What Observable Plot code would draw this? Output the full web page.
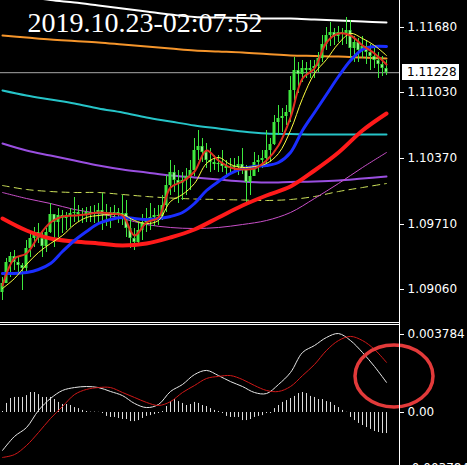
<!DOCTYPE html>
<html><head><meta charset="utf-8">
<script src="https://cdn.jsdelivr.net/npm/d3@7"></script>
<script src="https://cdn.jsdelivr.net/npm/@observablehq/plot@0.6"></script>
<style>
html,body{margin:0;padding:0;background:#000;}
#wrap{position:relative;width:467px;height:465px;background:#000;overflow:hidden;}
#wrap > *{position:absolute;}
</style></head><body>
<div id="wrap"></div>
<script>
// ---- data ----
const titleText = "2019.10.23-02:07:52";
const priceTicks = [1.1168, 1.1103, 1.1037, 1.0971, 1.0906];
const lastPrice = 1.11228;
const firstOpen = 1.0903;
const highs = [1.0918,1.0937,1.0943,1.0945,1.0938,1.0932,1.0955,1.0962,1.0968,1.0972,
1.0963,1.0967,1.0992,1.0980,1.0987,1.0985,1.0983,1.0987,1.0998,1.0990,
1.0987,1.0988,1.0989,1.0990,1.0992,1.1002,1.0991,1.0988,1.0990,1.0987,
1.1000,1.0995,1.0977,1.0967,1.0973,1.0981,1.0987,1.0992,1.0987,1.0990,
1.1000,1.1020,1.1035,1.1030,1.1025,1.1023,1.1027,1.1035,1.1057,1.1065,
1.1057,1.1052,1.1047,1.1040,1.1040,1.1045,1.1035,1.1037,1.1037,1.1039,
1.1047,1.1030,1.1027,1.1043,1.1040,1.1045,1.1065,1.1057,1.1080,1.1090,
1.1087,1.1090,1.1119,1.1138,1.1133,1.1135,1.1133,1.1135,1.1135,1.1143,
1.1160,1.1168,1.1173,1.1167,1.1169,1.1167,1.1178,1.1175,1.1159,1.1157,
1.1159,1.1155,1.1151,1.1147,1.1143,1.1139,1.1135];
const lows = [1.0895,1.0912,1.0918,1.0925,1.0923,1.0905,1.0922,1.0938,1.0948,1.0952,
1.0938,1.0943,1.0962,1.0948,1.0958,1.0962,1.0965,1.0968,1.0973,1.0973,
1.0972,1.0973,1.0973,1.0972,1.0970,1.0965,1.0969,1.0967,1.0975,1.0972,
1.0970,1.0958,1.0947,1.0945,1.0949,1.0955,1.0963,1.0965,1.0969,1.0970,
1.0975,1.0983,1.1000,1.1003,1.0992,1.0995,1.1000,1.1005,1.1019,1.1035,
1.1033,1.1027,1.1023,1.1025,1.1023,1.1023,1.1020,1.1020,1.1023,1.1020,
1.1021,1.0993,1.1000,1.1020,1.1023,1.1027,1.1030,1.1033,1.1050,1.1060,
1.1063,1.1070,1.1073,1.1095,1.1102,1.1113,1.1117,1.1117,1.1117,1.1123,
1.1133,1.1145,1.1149,1.1150,1.1153,1.1150,1.1151,1.1137,1.1133,1.1133,
1.1137,1.1131,1.1125,1.1127,1.1117,1.1119,1.1120];
const closes = [1.0912,1.0933,1.0939,1.0933,1.0930,1.0927,1.0947,1.0957,1.0963,1.0957,
1.0949,1.0963,1.0981,1.0973,1.0980,1.0977,1.0979,1.0982,1.0983,1.0981,
1.0980,1.0983,1.0981,1.0982,1.0985,1.0981,1.0983,1.0980,1.0983,1.0981,
1.0982,1.0967,1.0957,1.0953,1.0965,1.0973,1.0975,1.0978,1.0980,1.0979,
1.0990,1.1010,1.1023,1.1015,1.1012,1.1015,1.1019,1.1025,1.1045,1.1049,
1.1043,1.1035,1.1033,1.1031,1.1032,1.1029,1.1027,1.1029,1.1028,1.1031,
1.1027,1.1013,1.1019,1.1033,1.1035,1.1037,1.1045,1.1051,1.1073,1.1077,
1.1079,1.1083,1.1105,1.1125,1.1121,1.1127,1.1125,1.1127,1.1129,1.1137,
1.1151,1.1160,1.1163,1.1159,1.1163,1.1161,1.1165,1.1147,1.1153,1.1145,
1.1149,1.1143,1.1139,1.1135,1.1131,1.1127,1.11228];

// fast lines, sampled every 3 bars
const maFastRed = [1.0910,1.0937,1.0942,1.0959,1.0973,1.0979,1.0980,1.0981,1.0983,1.0982,1.0980,1.0960,1.0973,1.0978,1.1008,1.1014,1.1024,1.1045,1.1035,1.1028,1.1026,1.1027,1.1035,1.1050,1.1078,1.1117,1.1127,1.1153,1.1162,1.1160,1.1150,1.1142,1.1131];
const maYellow = [1.0907,1.0917,1.0931,1.0943,1.0952,1.0960,1.0971,1.0978,1.0980,1.0981,1.0981,1.0975,1.0972,1.0975,1.0994,1.1001,1.1012,1.1032,1.1038,1.1031,1.1028,1.1029,1.1032,1.1042,1.1065,1.1097,1.1122,1.1136,1.1152,1.1162,1.1157,1.1150,1.1140];
const maBlue = [1.0922,1.0922,1.0923,1.0926,1.0932,1.0944,1.0955,1.0964,1.0972,1.0976,1.0978,1.0977,1.0976,1.0977,1.0979,1.0983,1.0992,1.1005,1.1014,1.1022,1.1027,1.1029,1.1030,1.1033,1.1043,1.1065,1.1083,1.1101,1.1119,1.1135,1.1146,1.1149,1.1149];
// slow lines, sampled every 6 bars
const maWhite = [1.1203,1.1199,1.11955,1.1193,1.1190,1.1187,1.1184,1.1181,1.11785,1.1178,1.11775,1.1177,1.1177,1.1176,1.1175,1.1174,1.1173];
const maOrange = [1.1160,1.1158,1.1156,1.11545,1.1153,1.1151,1.1149,1.1147,1.1145,1.1144,1.1143,1.11415,1.1140,1.11395,1.1139,1.1138,1.1137];
const maCyan = [1.1105,1.1100,1.1096,1.1092,1.1087,1.1083,1.1078,1.1074,1.1070,1.1067,1.1064,1.1062,1.10615,1.1061,1.1061,1.1061,1.1061];
const maPurple = [1.1052,1.1045,1.1040,1.1035,1.1030,1.1026,1.1023,1.1020,1.1018,1.1016,1.1014,1.1013,1.10135,1.1014,1.1015,1.1017,1.1019];
const maDashed = [1.1010,1.1006,1.1004,1.1003,1.1003,1.1001,1.0999,1.09975,1.09965,1.0996,1.09955,1.0995,1.0996,1.0999,1.1004,1.1008,1.1012];
const maMagenta = [1.1003,1.0997,1.0992,1.0986,1.0982,1.0977,1.0971,1.0968,1.0967,1.0968,1.0971,1.0975,1.0983,1.0997,1.1012,1.1028,1.1043];
const maThickRed = [1.0977,1.0965,1.0957,1.0954,1.0952,1.0950,1.0952,1.0958,1.0966,1.0978,1.0990,1.1000,1.1009,1.1025,1.1043,1.1065,1.1082];

// MACD
const macdTickValues = [0.003784, 0, -0.00272];
const macdTickLabels = ["0.003784", "0.00", "-0.003784"];
const macdHist = [0.00005,0.00044,0.00068,0.00073,0.00073,0.00073,0.00082,0.00097,0.00097,0.00087,
 0.00073,0.00073,0.00073,0.00063,0.00049,0.00039,0.00039,0.00034,0.00024,0.00019,
 0.0001,0.00005,0.00002,0.00002,0.00001,-0.00005,-0.00019,-0.00024,-0.00024,-0.00029,
 -0.00034,-0.00034,-0.00044,-0.00044,-0.00039,-0.00029,-0.00019,-0.00015,-0.0001,-0.00005,
 0.00005,0.00029,0.00053,0.00063,0.00053,0.00044,0.00034,0.00039,0.00049,0.00044,
 0.00034,0.00029,0.00019,0.0001,0.00005,-0.00005,-0.00019,-0.00024,-0.00024,-0.00024,
 -0.00039,-0.00039,-0.00034,-0.00024,-0.00019,-0.00015,-0.00005,-0.00005,0.00019,0.00034,
 0.00049,0.00058,0.00068,0.00078,0.00092,0.00097,0.00092,0.00078,0.00073,0.00063,
 0.00063,0.00053,0.00049,0.00034,0.00024,0.0001,0.00001,-0.00024,-0.00039,-0.00053,
 -0.00063,-0.00073,-0.00082,-0.00092,-0.00097,-0.00102,-0.00102];
const macdLine = [-0.00184,-0.00116,-0.00073,0.0001,0.00068,0.00107,0.00121,0.00126,0.00121,0.00102,0.00082,0.00044,0.00024,0.00039,0.00102,0.00136,0.00184,0.00204,0.00179,0.0015,0.00126,0.00097,0.00092,0.00136,0.00194,0.00291,0.00325,0.00364,0.00383,0.00349,0.00291,0.00223,0.00146];
const macdSignal = [-0.00218,-0.00204,-0.0016,-0.00097,-0.00029,0.00029,0.00087,0.00112,0.00121,0.00121,0.00097,0.00073,0.00049,0.00034,0.00053,0.00097,0.00131,0.00165,0.00175,0.00179,0.0016,0.00131,0.00107,0.00102,0.00126,0.00179,0.00233,0.00301,0.00349,0.00369,0.00349,0.00306,0.00243];
const circle = {i: 98, v: 0.00175, rx: 39, ry: 31};

// ---- build ----
const N = closes.length;
const opens = closes.map((c, i) => i === 0 ? firstOpen : closes[i - 1]);
const candles = closes.map((c, i) => ({
  i, o: opens[i], c,
  h: Math.max(highs[i], opens[i], c),
  l: Math.min(lows[i], opens[i], c)
}));
const idx3 = d3.range(0, N, 3), idx6 = d3.range(0, N, 6);
const series = (idx, vals) => vals.map((v, k) => ({i: idx[k], v}));
const hist = macdHist.map((v, i) => ({i, v}));

const W = 467, RIGHT = 68;
const xDomain = [-0.5, 99.25];
const LIME = "#3ee83e";
const font = "'DejaVu Sans', sans-serif";
const baseStyle = {background: "#000", color: "#fff", fontFamily: font, fontSize: "12px"};
const ln = (idx, vals, o) => Plot.line(series(idx, vals), {x: "i", y: "v", curve: "catmull-rom", clip: true, ...o});

const main = Plot.plot({
  width: W, height: 321,
  marginLeft: 0, marginRight: RIGHT, marginTop: 0, marginBottom: 0,
  style: baseStyle,
  x: {domain: xDomain, axis: null},
  y: {domain: [1.0874, 1.1195], axis: "right", ticks: priceTicks, tickFormat: d => d.toFixed(5),
      tickSize: 4, tickPadding: 4, label: null},
  marks: [
    Plot.ruleY([lastPrice], {stroke: "#a8a8a8", strokeWidth: 1}),
    ln(idx6, maWhite, {stroke: "#ffffff", strokeWidth: 2}),
    ln(idx6, maOrange, {stroke: "#f5952b", strokeWidth: 2}),
    ln(idx6, maCyan, {stroke: "#26c4c8", strokeWidth: 2}),
    ln(idx6, maPurple, {stroke: "#9a4fe0", strokeWidth: 2}),
    ln(idx6, maDashed, {stroke: "#cde15a", strokeWidth: 1, strokeDasharray: "7,5"}),
    ln(idx6, maMagenta, {stroke: "#c84fc8", strokeWidth: 1}),
    Plot.ruleX(candles, {x: "i", y1: "l", y2: "h", stroke: LIME, strokeWidth: 1}),
    Plot.rect(candles, {x1: d => d.i - 0.375, x2: d => d.i + 0.375, y1: "o", y2: "c", fill: LIME}),
    Plot.rect(candles.filter(d => d.c < d.o), {x1: d => d.i - 0.375, x2: d => d.i + 0.375, y1: "o", y2: "c", inset: 1,
      fill: "#d8ffd0"}),
    ln(idx6, maThickRed, {stroke: "#ff1a1a", strokeWidth: 4}),
    ln(idx3, maBlue, {stroke: "#1a2eff", strokeWidth: 3}),
    ln(idx3, maYellow, {stroke: "#ffff40", strokeWidth: 1}),
    ln(idx3, maFastRed, {stroke: "#e03020", strokeWidth: 2}),
    Plot.text([titleText], {frameAnchor: "top-left", dx: 27, dy: 12, fill: "#fff",
      fontFamily: "'Liberation Serif', 'Times New Roman', serif", fontSize: 28, textAnchor: "start"})
  ]
});

const macd = Plot.plot({
  width: W, height: 140,
  marginLeft: 0, marginRight: RIGHT, marginTop: 0, marginBottom: 0,
  style: baseStyle,
  x: {domain: xDomain, axis: null},
  y: {domain: [-0.00257, 0.00422], axis: "right", ticks: macdTickValues,
      tickFormat: d => macdTickLabels[macdTickValues.indexOf(d)], tickSize: 4, tickPadding: 4, label: null},
  marks: [
    Plot.ruleX(hist, {x: "i", y1: 0, y2: "v", stroke: "#dcdcdc", strokeWidth: 1}),
    ln(idx3, macdLine, {stroke: "#e6e6e6", strokeWidth: 1}),
    ln(idx3, macdSignal, {stroke: "#d01818", strokeWidth: 1}),
    (index, scales) => {
      const e = document.createElementNS("http://www.w3.org/2000/svg", "ellipse");
      e.setAttribute("cx", scales.x(circle.i));
      e.setAttribute("cy", scales.y(circle.v));
      e.setAttribute("rx", circle.rx);
      e.setAttribute("ry", circle.ry);
      e.setAttribute("fill", "none");
      e.setAttribute("stroke", "#e23a3a");
      e.setAttribute("stroke-width", 3.5);
      return e;
    }
  ]
});

const wrap = document.getElementById("wrap");
main.style.left = "0px"; main.style.top = "0px";
macd.style.left = "0px"; macd.style.top = "325px";
wrap.appendChild(main);
wrap.appendChild(macd);

function addDiv(css, text) {
  const d = document.createElement("div");
  d.style.cssText = "position:absolute;" + css;
  if (text) d.textContent = text;
  wrap.appendChild(d);
  return d;
}
// panel separator and right axis line
addDiv("left:0;top:322px;width:399px;height:1px;background:#fff;");
addDiv("left:0;top:324px;width:399px;height:1px;background:#fff;");
addDiv("left:399px;top:0;width:1px;height:465px;background:#fff;");
// current price label
const py = main.scale("y").apply(lastPrice);
addDiv(`left:402px;top:${py - 8}px;width:57px;height:16px;background:#fff;color:#000;font:12px ${font};line-height:16px;padding-left:5px;box-sizing:border-box;`, lastPrice.toFixed(5));
</script>
</body></html>
